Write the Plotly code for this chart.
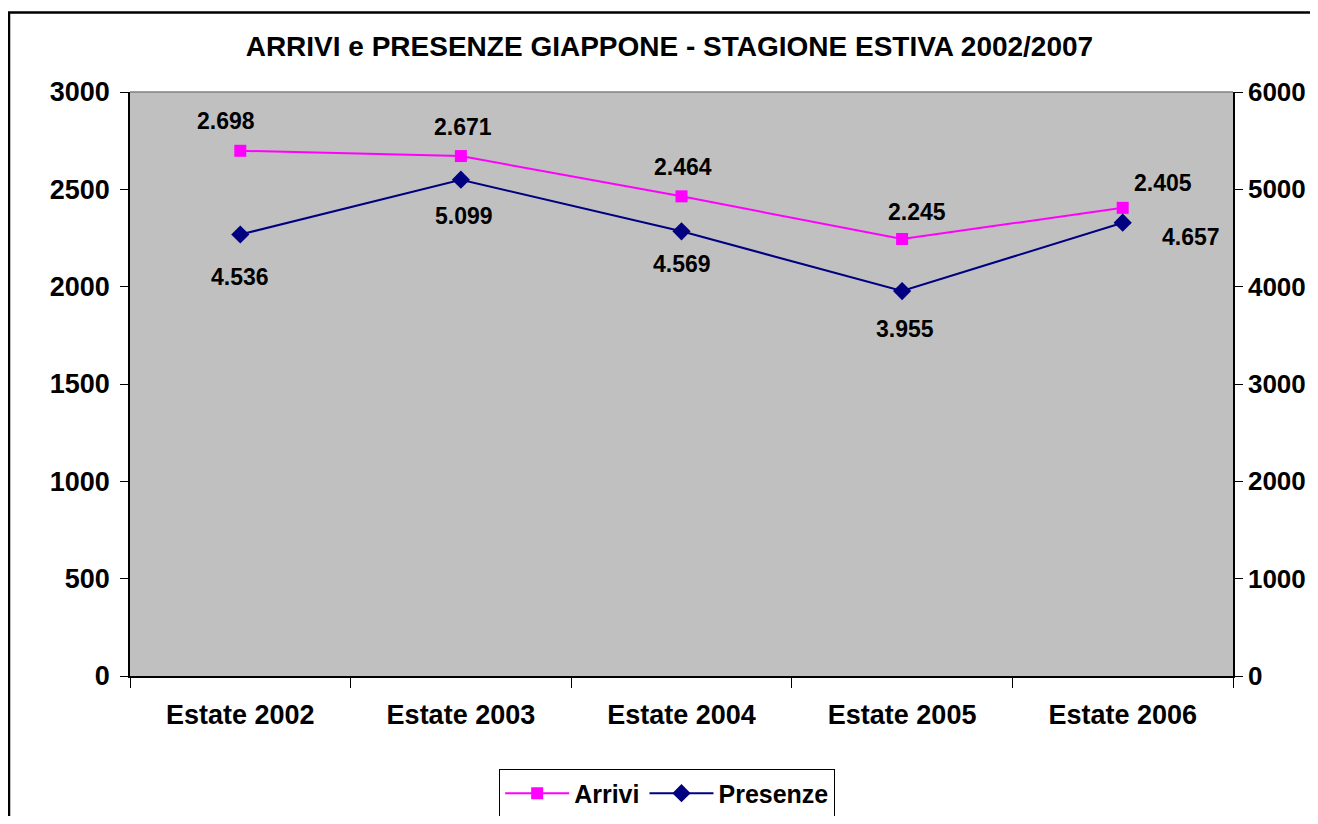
import plotly.graph_objects as go

categories = ["Estate 2002", "Estate 2003", "Estate 2004", "Estate 2005", "Estate 2006"]
arrivi = [2698, 2671, 2464, 2245, 2405]
presenze = [4536, 5099, 4569, 3955, 4657]

left_ticks = [0, 500, 1000, 1500, 2000, 2500, 3000]
right_ticks = [0, 1000, 2000, 3000, 4000, 5000, 6000]

# label offsets in px (Excel-style placement)
arrivi_lbl_dx = [-14, 2, 1, 15, 40]
arrivi_lbl_dy = [30, 29, 29, 27, 25]
presenze_lbl_dx = [0, 3, 0, 3, 68]
presenze_lbl_dy = [-42, -36, -33, -38, -14]


def it_fmt(v):
    # italian thousands separator
    return f"{v:,}".replace(",", ".")


FONT = "Liberation Sans, Arial, sans-serif"
lbl_font = dict(family=FONT, size=23, color="black", weight="bold")
tick_font = dict(family=FONT, size=27, color="black", weight="bold")

fig = go.Figure()
fig.add_trace(go.Scatter(
    x=categories, y=arrivi, name="Arrivi", mode="lines+markers",
    line=dict(color="#FF00FF", width=2),
    marker=dict(symbol="square", size=12, color="#FF00FF"),
))
fig.add_trace(go.Scatter(
    x=categories, y=presenze, name="Presenze", mode="lines+markers",
    yaxis="y2",
    line=dict(color="#000080", width=2),
    marker=dict(symbol="diamond", size=14, color="#000080"),
))

annotations = []
for c, v, dx, dy in zip(categories, arrivi, arrivi_lbl_dx, arrivi_lbl_dy):
    annotations.append(dict(x=c, y=v, xref="x", yref="y", text=it_fmt(v),
                            showarrow=False, xshift=dx, yshift=dy, font=lbl_font))
for c, v, dx, dy in zip(categories, presenze, presenze_lbl_dx, presenze_lbl_dy):
    annotations.append(dict(x=c, y=v, xref="x", yref="y2", text=it_fmt(v),
                            showarrow=False, xshift=dx, yshift=dy, font=lbl_font))

# page has an 8px body margin, so the figure is sized to fit inside the window
fig.update_layout(
    width=1302, height=808,
    margin=dict(l=122, r=77, t=84, b=140, autoexpand=False),
    paper_bgcolor="white",
    plot_bgcolor="#C0C0C0",
    showlegend=True,
    title=dict(
        text="ARRIVI e PRESENZE GIAPPONE - STAGIONE ESTIVA 2002/2007",
        x=0.508, xanchor="center", y=0.953, yanchor="middle",
        font=dict(family=FONT, size=28, color="black", weight="bold"),
    ),
    xaxis=dict(
        type="category", tickson="boundaries", ticks="outside", ticklen=10,
        tickcolor="black", showline=True, linecolor="black", linewidth=1.5,
        showgrid=False, tickfont=tick_font, range=[-0.5, 4.5],
        ticklabelstandoff=14, automargin=False,
    ),
    yaxis=dict(
        range=[0, 3000], tickvals=left_ticks, ticks="outside", ticklen=8,
        tickcolor="black", showline=True, linecolor="black", linewidth=1.5,
        showgrid=False, zeroline=False, tickfont=tick_font,
        ticklabelstandoff=5, automargin=False,
    ),
    yaxis2=dict(
        range=[0, 6000], tickvals=right_ticks, overlaying="y", side="right",
        ticks="outside", ticklen=8, tickcolor="black", showline=True,
        linecolor="black", linewidth=1.5, showgrid=False, zeroline=False,
        tickfont=dict(family=FONT, size=26, color="black", weight="bold"),
        ticklabelstandoff=0, automargin=False,
    ),
    legend=dict(
        orientation="h", x=0.487, xanchor="center", y=-0.201, yanchor="middle",
        bgcolor="white", bordercolor="black", borderwidth=1,
        font=dict(family=FONT, size=25, color="black", weight="bold"),
        itemwidth=64,
    ),
    annotations=annotations,
    shapes=[
        dict(type="line", xref="paper", yref="paper", x0=0, x1=1, y0=1, y1=1,
             line=dict(color="#808080", width=1.5)),
        dict(type="rect", xref="paper", yref="paper", x0=-0.1097, x1=1.2,
             y0=-0.4, y1=1.136, line=dict(color="black", width=2.5)),
    ],
)

fig.write_html("out.html")
